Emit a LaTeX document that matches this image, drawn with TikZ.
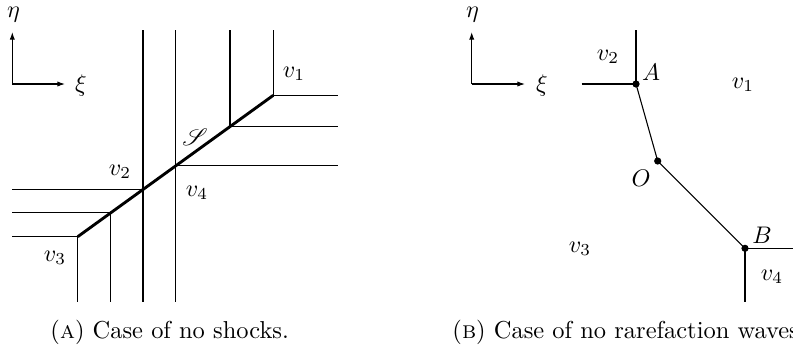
\documentclass[tikz,border=0pt]{standalone}
\usepackage{mathrsfs}
\usetikzlibrary{arrows.meta}
\begin{document}
\begin{tikzpicture}[x=0.4167pt,y=-0.4167pt,
  thinline/.style={line width=0.45pt},
  shockline/.style={line width=1.2pt},
  axisarrow/.style={line width=0.45pt,-{Latex[length=3.2pt,width=2.2pt]}},
  lbl/.style={inner sep=1pt},
  dot/.style={circle,fill,inner sep=0pt,minimum size=3pt},
  captext/.style={anchor=west,inner sep=0pt,font=\fontsize{10.2}{12.2}\selectfont}]
\useasboundingbox (0,0) rectangle (793,351);
\clip (0,0) rectangle (793,351);
% ---------- left panel ----------
\coordinate (o1) at (12.3,84);
\coordinate (e1) at (12.3,32);
\coordinate (x1) at (65,84);
\draw[axisarrow] (o1) -- (e1);
\draw[axisarrow] (o1) -- (x1);
\node[lbl] (eta1) at (13.5,14.5) {$\eta$};
\node[lbl] (xi1) at (81,85) {$\xi$};
\coordinate (P1) at (273.3,95.3);
\coordinate (P2) at (230,126.7);
\coordinate (P3) at (175.7,165.7);
\coordinate (P4) at (143,189.3);
\coordinate (P5) at (110.3,212.5);
\coordinate (P6) at (77.7,236.7);
\coordinate (T1) at (273.3,30);
\coordinate (R1) at (338.3,95.3);
\coordinate (T2) at (230,30);
\coordinate (R2) at (338.3,126.7);
\coordinate (T3) at (175.7,30);
\coordinate (B3) at (175.7,301.7);
\coordinate (R3) at (338.3,165.7);
\coordinate (T4) at (143,30);
\coordinate (B4) at (143,301.7);
\coordinate (L4) at (12.3,189.3);
\coordinate (L5) at (12.3,212.5);
\coordinate (B5) at (110.3,301.7);
\coordinate (L6) at (12.3,236.7);
\coordinate (B6) at (77.7,301.7);
\draw[thinline] (T1) -- (P1) -- (R1);
\draw[thinline] (T2) -- (P2) -- (R2);
\draw[thinline] (T3) -- (B3);
\draw[thinline] (P3) -- (R3);
\draw[thinline] (T4) -- (B4);
\draw[thinline] (L4) -- (P4);
\draw[thinline] (L5) -- (P5) -- (B5);
\draw[thinline] (L6) -- (P6) -- (B6);
\draw[shockline] (P6) -- (P1);
\node[lbl] (v1a) at (294,74) {$v_1$};
\node[lbl] (Sa) at (195,137) {$\mathscr{S}$};
\node[lbl] (v2a) at (120,172) {$v_2$};
\node[lbl] (v4a) at (197,193) {$v_4$};
\node[lbl] (v3a) at (55,258) {$v_3$};
% ---------- right panel ----------
\coordinate (o2) at (471.7,84);
\coordinate (e2) at (471.7,32);
\coordinate (x2) at (525,84);
\draw[axisarrow] (o2) -- (e2);
\draw[axisarrow] (o2) -- (x2);
\node[lbl] (eta2) at (472.5,14.5) {$\eta$};
\node[lbl] (xi2) at (542,85) {$\xi$};
\node[dot] (A) at (636,84) {};
\node[dot] (O) at (657.7,161) {};
\node[dot] (B) at (745,248.3) {};
\coordinate (AL) at (581.7,84);
\coordinate (AT) at (636,30);
\coordinate (BR) at (795,248.3);
\coordinate (BD) at (745,301.7);
\draw[thinline] (AL) -- (A.center) -- (AT);
\draw[thinline] (A.center) -- (O.center) -- (B.center);
\draw[thinline] (B.center) -- (BR);
\draw[thinline] (B.center) -- (BD);
\node[lbl] (v2b) at (608,57) {$v_2$};
\node[lbl] (Al) at (651,72) {$A$};
\node[lbl] (v1b) at (743,85) {$v_1$};
\node[lbl] (Ol) at (641,178) {$O$};
\node[lbl] (v3b) at (580,249) {$v_3$};
\node[lbl] (Bl) at (762,235) {$B$};
\node[lbl] (v4b) at (772,277) {$v_4$};
% ---------- captions ----------
\node[captext] (capA) at (50,332) {(\textsc{a}) Case of no shocks.};
\node[captext] (capB) at (452,332) {(\textsc{b}) Case of no rarefaction waves};
\end{tikzpicture}
\end{document}
